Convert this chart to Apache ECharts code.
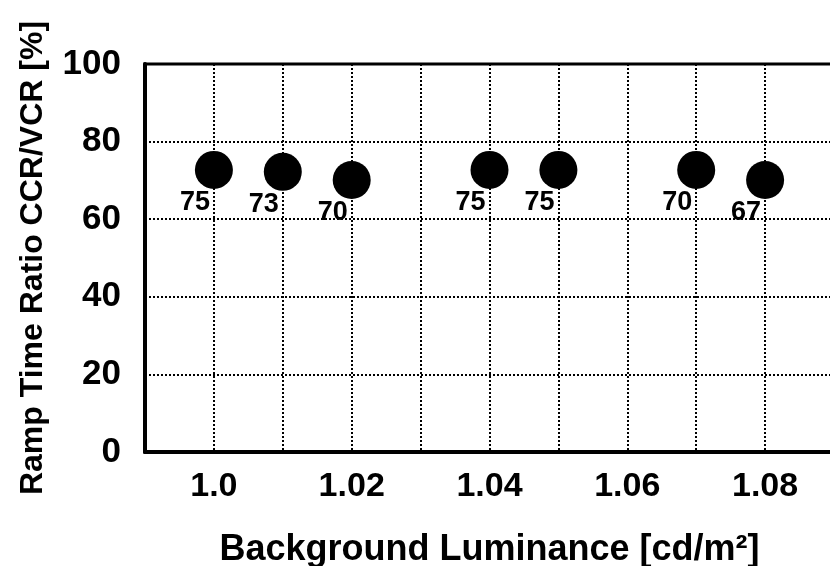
<!DOCTYPE html>
<html>
<head>
<meta charset="utf-8">
<script src="https://cdn.jsdelivr.net/npm/echarts@6/dist/echarts.min.js"></script>
<style>html,body{margin:0;padding:0;background:#fff;}#c{width:830px;height:566px;}</style>
</head>
<body>
<div id="c"></div>
<script>
// Data
const luminance = [1.00, 1.01, 1.02, 1.04, 1.05, 1.07, 1.08];
const rampRatio = [72.7, 72.2, 70.1, 72.7, 72.7, 72.7, 70.1];
const pointLabels = ['75', '73', '70', '75', '75', '70', '67'];
const xTickValues = [1.00, 1.02, 1.04, 1.06, 1.08];
const xTickLabels = ['1.0', '1.02', '1.04', '1.06', '1.08'];
const yTickValues = [0, 20, 40, 60, 80, 100];

const FONT = '"Liberation Sans", Arial, sans-serif';
const chart = echarts.init(document.getElementById('c'), null, {renderer: 'canvas'});

const seriesData = luminance.map((x, i) => [x, rampRatio[i], pointLabels[i]]);

chart.setOption({
  animation: false,
  backgroundColor: '#fff',
  grid: {left: 145, right: -4, top: 64, bottom: 114, outerBoundsMode: 'none', containLabel: false,
         show: true, borderColor: '#000', borderWidth: 3, backgroundColor: 'transparent'},
  xAxis: {
    type: 'value', min: 0.99, max: 1.09, interval: 0.01,
    name: 'Background Luminance [cd/m²]', nameLocation: 'middle', nameGap: 80,
    nameTextStyle: {fontFamily: FONT, fontWeight: 'bold', fontSize: 36, color: '#000'},
    axisLine: {show: true, lineStyle: {color: '#000', width: 4}},
    axisTick: {show: false},
    axisLabel: {
      margin: 18, fontFamily: FONT, fontWeight: 'bold', fontSize: 34, color: '#000',
      showMinLabel: true, showMaxLabel: true,
      formatter: v => {
        const k = xTickValues.findIndex(t => Math.abs(t - v) < 1e-6);
        return k >= 0 ? xTickLabels[k] : '';
      }
    },
    splitLine: {show: true, lineStyle: {color: '#000', width: 2, type: [2, 2]}}
  },
  yAxis: {
    type: 'value', min: 0, max: 100, interval: 20,
    name: 'Ramp Time Ratio CCR/VCR [%]', nameLocation: 'middle', nameGap: 96, nameRotate: 90,
    nameTextStyle: {fontFamily: FONT, fontWeight: 'bold', fontSize: 32, color: '#000'},
    axisLine: {show: true, lineStyle: {color: '#000', width: 4}},
    axisTick: {show: false},
    axisLabel: {
      margin: 24, fontFamily: FONT, fontWeight: 'bold', fontSize: 35, color: '#000',
      formatter: v => yTickValues.includes(Math.round(v)) ? String(Math.round(v)) : ''
    },
    splitLine: {show: true, lineStyle: {color: '#000', width: 2, type: [2, 2]}}
  },
  series: [{
    type: 'scatter',
    data: seriesData,
    symbol: 'circle',
    symbolSize: 38,
    itemStyle: {color: '#000', opacity: 1},
    label: {
      show: true, position: 'inside', offset: [-19, 33],
      formatter: p => p.value[2],
      fontFamily: FONT, fontWeight: 'bold', fontSize: 27, color: '#000'
    },
    z: 5
  }]
});
</script>
</body>
</html>
